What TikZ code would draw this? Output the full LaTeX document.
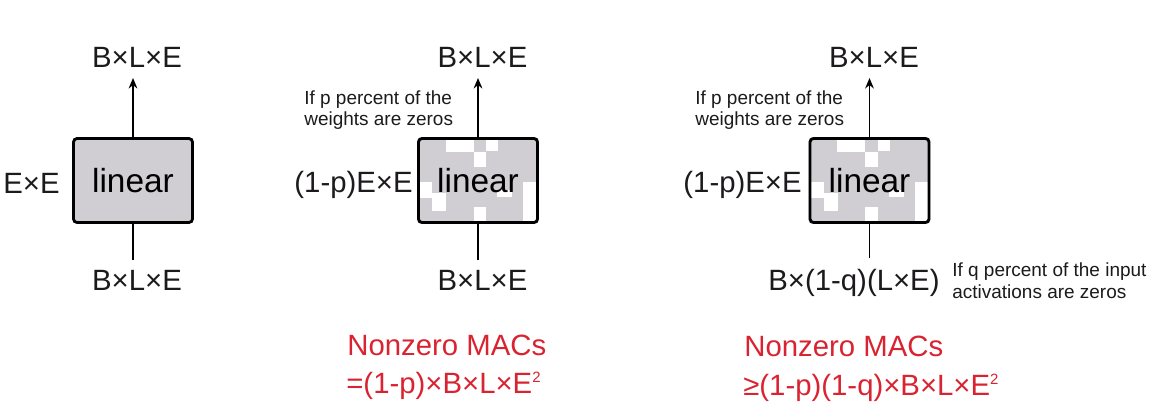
\documentclass[tikz,border=0pt]{standalone}
\usepackage{fontspec}
\setmainfont{Liberation Sans}
\usetikzlibrary{arrows.meta}
\pgfdeclarelayer{background}
\pgfsetlayers{background,main}
\definecolor{boxgray}{RGB}{208,206,211}
\definecolor{ink}{RGB}{28,26,28}
\definecolor{macred}{RGB}{218,35,48}
\newcommand{\bigtxt}{\fontsize{16.7}{20}\selectfont}
\newcommand{\lintxt}{\fontsize{19}{22}\selectfont}
\newcommand{\notetxt}{\fontsize{10.8}{11.4}\selectfont}
\newcommand{\sqr}{\raisebox{6.2pt}{\fontsize{8.5}{9}\selectfont 2}}
% gray fill of a box plus the white (zero) cells, drawn behind the box
\newcommand{\zerocells}[1]{%
  \begin{pgfonlayer}{background}
    \fill[boxgray, rounded corners=2pt] (#1.south west) rectangle (#1.north east);
    \begin{scope}[shift={(#1.center)}]
      \fill[white] (-32.5,-41.5) rectangle (-4.5,-28.5);
      \fill[white] (8,-41.5) rectangle (20,-30);
      \fill[white] (-4.5,-28.5) rectangle (8,-13.5);
      \fill[white] (-59.5,1.5) rectangle (-46,17.5);
      \fill[white] (-46,12.5) rectangle (-32,30.5);
      \fill[white] (19,9.5) rectangle (34,16.5);
      \fill[white] (45,1.5) rectangle (59.5,41.5);
      \fill[white] (-4.5,26.5) rectangle (8,41.5);
    \end{scope}
  \end{pgfonlayer}}
\begin{document}
\begin{tikzpicture}[x=0.02cm,y=-0.02cm,
  box/.style={draw=black, fill=boxgray, line width=1.6pt, rounded corners=2pt,
    minimum width=2.38cm, minimum height=1.68cm, inner sep=0pt, font=\lintxt, text=black},
  sparse/.style={box, fill=none},
  lbl/.style={font=\bigtxt, text=ink, inner sep=0pt},
  note/.style={font=\notetxt, text=ink, inner sep=0pt, align=left},
  macs/.style={font=\bigtxt, text=macred, inner sep=0pt, align=left},
  conn/.style={line width=0.8pt, draw=black},
  arr/.style={conn, -{Stealth[length=6pt,width=5pt,inset=2pt]}}
]
\useasboundingbox (0,0) rectangle (1150,414);

% ---------- panel 1 ----------
\node[box] (b1) at (133,180.5) {linear};
\node[lbl, anchor=base] (o1) at (137,67) {B×L×E};
\node[lbl, anchor=base] (i1) at (137,290) {B×L×E};
\node[lbl, anchor=base east] (w1) at (60,193) {E×E};
\coordinate (t1) at (b1.north |- 0,78);
\coordinate (s1) at (b1.south |- 0,260);
\draw[arr] (b1.north) -- (t1);
\draw[conn] (s1) -- (b1.south);

% ---------- panel 2 ----------
\node[sparse] (b2) at (478,180.5) {linear};
\zerocells{b2}
\node[lbl, anchor=base] (o2) at (482.5,67) {B×L×E};
\node[lbl, anchor=base] (i2) at (482.5,290) {B×L×E};
\node[lbl, anchor=base east] (w2) at (413,192) {(1-p)E×E};
\node[note, anchor=base west] (n2) at (304,125) {If p percent of the\\weights are zeros};
\coordinate (t2) at (b2.north |- 0,78);
\coordinate (s2) at (b2.south |- 0,260);
\draw[arr] (b2.north) -- (t2);
\draw[conn] (s2) -- (b2.south);
\node[macs, anchor=base west] (m2) at (347,355) {Nonzero MACs};
\node[macs, anchor=base west] (e2) at (346,393) {=(1-p)×B×L×E\sqr};

% ---------- panel 3 ----------
\node[sparse] (b3) at (869.5,180.5) {linear};
\zerocells{b3}
\node[lbl, anchor=base] (o3) at (874,67) {B×L×E};
\node[lbl, anchor=base west] (i3) at (768,290) {B×(1-q)(L×E)};
\node[lbl, anchor=base east] (w3) at (802,192) {(1-p)E×E};
\node[note, anchor=base west] (n3) at (695,125) {If p percent of the\\weights are zeros};
\node[note, anchor=base west, font=\fontsize{10.8}{12.4}\selectfont] (q3) at (952,298) {If q percent of the input\\activations are zeros};
\coordinate (t3) at (b3.north |- 0,78);
\coordinate (s3) at (b3.south |- 0,258);
\draw[arr] (b3.north) -- (t3);
\draw[conn] (s3) -- (b3.south);
\node[macs, anchor=base west] (m3) at (744,356) {Nonzero MACs};
\node[macs, anchor=base west] (e3) at (743,395) {≥(1-p)(1-q)×B×L×E\sqr};
\end{tikzpicture}
\end{document}
